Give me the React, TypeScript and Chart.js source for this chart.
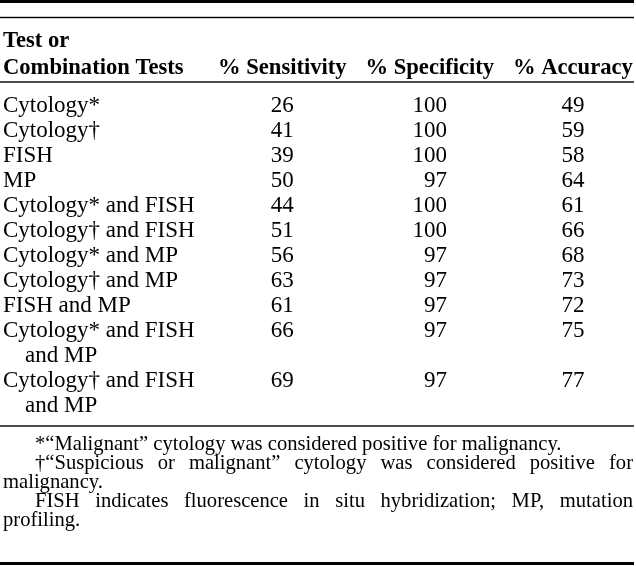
import React, { useEffect, useRef } from 'react';
import { Chart, registerables } from 'chart.js';

Chart.register(...registerables);

const headerLines = ['Test or', 'Combination Tests'];
const columns = ['% Sensitivity', '% Specificity', '% Accuracy'];
const tests: string[][] = [
  ['Cytology*'],
  ['Cytology†'],
  ['FISH'],
  ['MP'],
  ['Cytology* and FISH'],
  ['Cytology† and FISH'],
  ['Cytology* and MP'],
  ['Cytology† and MP'],
  ['FISH and MP'],
  ['Cytology* and FISH', 'and MP'],
  ['Cytology† and FISH', 'and MP'],
];
const sensitivity = [26, 41, 39, 50, 44, 51, 56, 63, 61, 66, 69];
const specificity = [100, 100, 100, 97, 100, 100, 97, 97, 97, 97, 97];
const accuracy = [49, 59, 58, 64, 61, 66, 68, 73, 72, 75, 77];
const footnotes: string[][] = [
  ['*“Malignant” cytology was considered positive for malignancy.'],
  ['†“Suspicious or malignant” cytology was considered positive for', 'malignancy.'],
  ['FISH indicates fluorescence in situ hybridization; MP, mutation', 'profiling.'],
];

const SERIF = "'Liberation Serif', 'Times New Roman', serif";
const BODY_FONT = `23px ${SERIF}`;
const HEAD_FONT = `bold 22.6px ${SERIF}`;
const NOTE_FONT = `20.6px ${SERIF}`;

// line index of each row (rows with wrapped labels take two lines)
const rowLine: number[] = [];
let acc = 0;
tests.forEach((t) => {
  rowLine.push(acc);
  acc += t.length;
});
const totalLines = acc;

const seriesList = [sensitivity, specificity, accuracy];

const tablePlugin = {
  id: 'tableText',
  afterDatasetsDraw(chart: any) {
    const ctx: CanvasRenderingContext2D = chart.ctx;
    const area = chart.chartArea;
    const ys = chart.scales.y;
    const xs = chart.scales.x;
    const left = area.left + 3;
    const right = area.right - 5;
    const firstBase = ys.getPixelForValue(0);
    const lastBase = ys.getPixelForValue(totalLines - 1);

    ctx.save();
    ctx.fillStyle = '#000';
    const rule = (y: number, w: number) => {
      ctx.fillRect(area.left, y - w / 2, area.right - 2 - area.left, w);
    };
    // rules
    rule(area.top + 1.5, 3);
    rule(area.top + 17.5, 1.4);
    rule(firstBase - 30, 1.4);
    rule(lastBase + 14, 1.4);
    rule(area.bottom - 2.5, 3);

    // header
    ctx.font = HEAD_FONT;
    ctx.textBaseline = 'alphabetic';
    ctx.textAlign = 'left';
    const headBase2 = firstBase - 38;
    const headBase1 = headBase2 - 27;
    ctx.fillText(headerLines[0], left, headBase1);
    ctx.fillText(headerLines[1], left, headBase2);
    const headerWidths: number[] = [];
    columns.forEach((c, i) => {
      const x = xs.getPixelForValue(i + 1);
      ctx.fillText(c, x, headBase2);
      headerWidths.push(ctx.measureText(c).width);
    });

    // row labels
    ctx.font = BODY_FONT;
    tests.forEach((lines, r) => {
      lines.forEach((ln, k) => {
        const y = ys.getPixelForValue(rowLine[r] + k);
        ctx.fillText(ln, left + (k > 0 ? 22 : 0), y);
      });
    });

    // cell values: right-aligned, block centred under header
    ctx.textAlign = 'right';
    chart.data.datasets.forEach((ds: any, di: number) => {
      const meta = chart.getDatasetMeta(di);
      const vals = seriesList[di];
      const maxW = Math.max(...vals.map((v) => ctx.measureText(String(v)).width));
      meta.data.forEach((el: any, j: number) => {
        const cx = el.x + headerWidths[di] / 2;
        ctx.fillText(String(vals[j]), cx + maxW / 2, el.y);
      });
    });

    // footnotes
    ctx.font = NOTE_FONT;
    ctx.textAlign = 'left';
    let y = lastBase + 38;
    const notePitch = 19;
    const indent = 32;
    footnotes.forEach((para) => {
      para.forEach((ln, k) => {
        const x0 = k === 0 ? left + indent : left;
        const isLast = k === para.length - 1;
        if (isLast) {
          ctx.fillText(ln, x0, y);
        } else {
          const words = ln.split(' ');
          const ws = words.map((w) => ctx.measureText(w).width);
          const sum = ws.reduce((a, b) => a + b, 0);
          const gap = (right + 2 - x0 - sum) / (words.length - 1);
          let x = x0;
          words.forEach((w, i) => {
            ctx.fillText(w, x, y);
            x += ws[i] + gap;
          });
        }
        y += notePitch;
      });
    });
    ctx.restore();
  },
};

export default function App() {
  const ref = useRef<HTMLCanvasElement | null>(null);
  useEffect(() => {
    if (!ref.current) return;
    const datasets = seriesList.map((vals, ci) => ({
      label: columns[ci],
      data: vals.map((v, j) => ({ x: ci + 1, y: rowLine[j] })),
      pointRadius: 0,
      showLine: false,
    }));
    const chart = new Chart(ref.current, {
      type: 'scatter',
      data: { datasets },
      options: {
        animation: false,
        responsive: false,
        layout: { padding: 0 },
        plugins: { legend: { display: false }, tooltip: { enabled: false } },
        scales: {
          x: { type: 'linear', display: false, min: -0.478, max: 3.834 },
          y: { type: 'linear', display: false, reverse: true, min: -4.48, max: 18.16 },
        },
      },
      plugins: [tablePlugin],
    });
    return () => chart.destroy();
  }, []);
  return (
    <div style={{ position: 'fixed', left: 0, top: 0, width: 636, height: 566, background: '#fff' }}>
      <canvas ref={ref} width={636} height={566} style={{ display: 'block' }} />
    </div>
  );
}
